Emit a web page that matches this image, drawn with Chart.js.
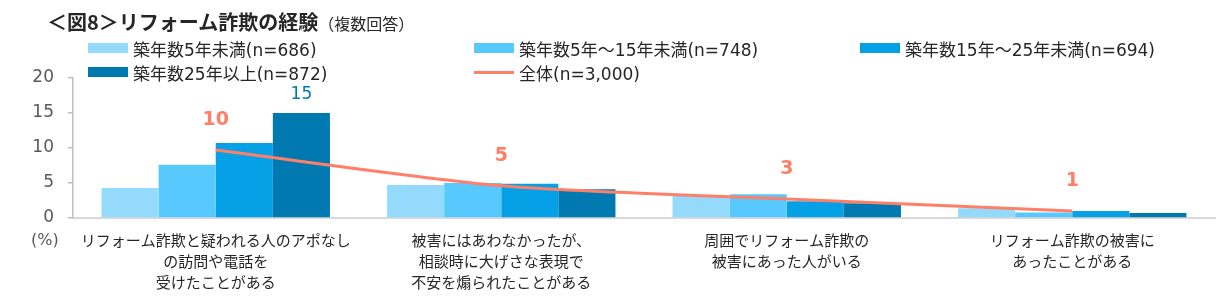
<!DOCTYPE html>
<html>
<head>
<meta charset="utf-8">
<script src="https://cdn.jsdelivr.net/npm/chart.js@4"></script>
<style>
  body { margin: 0; background: #fff; font-family: "DejaVu Sans", "Noto Sans CJK JP", sans-serif; }
  #wrap { position: relative; width: 1216px; height: 305px; overflow: hidden; }
  #chart { position: absolute; left: 0; top: 0; }
  #title { position: absolute; left: 47px; top: 7px; font-family: "Noto Sans CJK JP", sans-serif; font-size: 20px; font-weight: bold; color: #262626; white-space: nowrap; }
  #title span { font-size: 16px; font-weight: normal; }
  #legend { position: absolute; left: 0; top: 0; }
  .item { position: absolute; display: flex; align-items: center; font-size: 17px; color: #262626; white-space: nowrap; }
  .sw { width: 40px; margin-right: 5px; }
  #unit { position: absolute; left: 31px; top: 230px; font-size: 16px; color: #595959; }
</style>
</head>
<body>
<div id="wrap">
  <canvas id="chart" width="1216" height="305"></canvas>
  <div id="title">＜図8＞リフォーム詐欺の経験<span>（複数回答）</span></div>
  <div id="legend"></div>
  <div id="unit">(%)</div>
</div>
<script>
const categories = [
  ["リフォーム詐欺と疑われる人のアポなし", "の訪問や電話を", "受けたことがある"],
  ["被害にはあわなかったが、", "相談時に大げさな表現で", "不安を煽られたことがある"],
  ["周囲でリフォーム詐欺の", "被害にあった人がいる"],
  ["リフォーム詐欺の被害に", "あったことがある"]
];
const seriesNames = [
  "築年数5年未満(n=686)",
  "築年数5年～15年未満(n=748)",
  "築年数15年～25年未満(n=694)",
  "築年数25年以上(n=872)",
  "全体(n=3,000)"
];
const under5 = [4.3, 4.7, 3.2, 1.4];
const from5to15 = [7.6, 5.0, 3.4, 0.8];
const from15to25 = [10.7, 4.9, 2.4, 1.0];
const over25 = [15.0, 4.1, 2.1, 0.7];
const total = [9.7, 4.6, 2.7, 1.0];
const over25Labels = ["15", "", "", ""];
const yTicks = [0, 5, 10, 15, 20];

const colors = ["#93DAFC", "#58C9FD", "#05A0E6", "#0079B1"];
const lineColor = "#FF7F69";

// data labels for the total line and the one labelled bar
const labelPlugin = {
  id: "labels",
  afterDatasetsDraw(chart) {
    const ctx = chart.ctx;
    ctx.save();
    ctx.textAlign = "center";
    ctx.textBaseline = "middle";

    const lineMeta = chart.getDatasetMeta(4);
    ctx.font = "bold 19px 'DejaVu Sans', sans-serif";
    ctx.fillStyle = lineColor;
    lineMeta.data.forEach((pt, i) => {
      ctx.fillText(String(Math.round(total[i])), pt.x, pt.y - 30);
    });

    const barMeta = chart.getDatasetMeta(3);
    ctx.font = "17px 'DejaVu Sans', sans-serif";
    ctx.fillStyle = colors[3];
    barMeta.data.forEach((bar, i) => {
      if (over25Labels[i]) ctx.fillText(over25Labels[i], bar.x, bar.y - 18);
    });
    ctx.restore();
  }
};

const barSets = [under5, from5to15, from15to25, over25].map((d, i) => ({
  type: "bar",
  label: seriesNames[i],
  data: d,
  backgroundColor: colors[i],
  categoryPercentage: 0.8,
  barPercentage: 1.0,
  order: 1
}));

const chart = new Chart(document.getElementById("chart"), {
  data: {
    labels: categories,
    datasets: [
      ...barSets,
      {
        type: "line",
        label: seriesNames[4],
        data: total,
        borderColor: lineColor,
        backgroundColor: lineColor,
        borderWidth: 3,
        pointRadius: 0,
        tension: 0.25,
        order: 0
      }
    ]
  },
  options: {
    responsive: false,
    animation: false,
    layout: { padding: { top: 78, right: 1, left: 0, bottom: 0 } },
    plugins: { legend: { display: false }, tooltip: { enabled: false } },
    scales: {
      x: {
        grid: { display: false, drawTicks: false },
        border: { color: "#D9D9D9", width: 2 },
        ticks: {
          autoSkip: false,
          maxRotation: 0,
          padding: 12,
          color: "#262626",
          font: { size: 15, family: "'Noto Sans CJK JP', sans-serif", lineHeight: 1.4 }
        },
        afterFit: (s) => { s.height = 87; }
      },
      y: {
        min: 0,
        max: 20,
        afterBuildTicks: (s) => { s.ticks = yTicks.map((v) => ({ value: v })); },
        grid: { drawOnChartArea: false, tickLength: 5, color: "#BFBFBF", lineWidth: 1.5 },
        border: { color: "#BFBFBF", width: 1.5 },
        ticks: {
          padding: 14,
          color: "#595959",
          font: { size: 17, family: "'DejaVu Sans', sans-serif" }
        },
        afterFit: (s) => { s.width = 73; }
      }
    }
  },
  plugins: [labelPlugin]
});

// legend in a 3-column grid, built from the chart's datasets
const legendPos = [[88, 48], [474, 48], [860, 48], [88, 72], [474, 72]];
const legend = document.getElementById("legend");
chart.data.datasets.forEach((ds, i) => {
  const item = document.createElement("div");
  item.className = "item";
  item.style.left = legendPos[i][0] + "px";
  item.style.top = (legendPos[i][1] - 12) + "px";
  item.style.height = "24px";
  const sw = document.createElement("span");
  sw.className = "sw";
  sw.style.background = ds.type === "line" ? ds.borderColor : ds.backgroundColor;
  sw.style.height = ds.type === "line" ? "3px" : "10px";
  item.appendChild(sw);
  item.appendChild(document.createTextNode(ds.label));
  legend.appendChild(item);
});
</script>
</body>
</html>
